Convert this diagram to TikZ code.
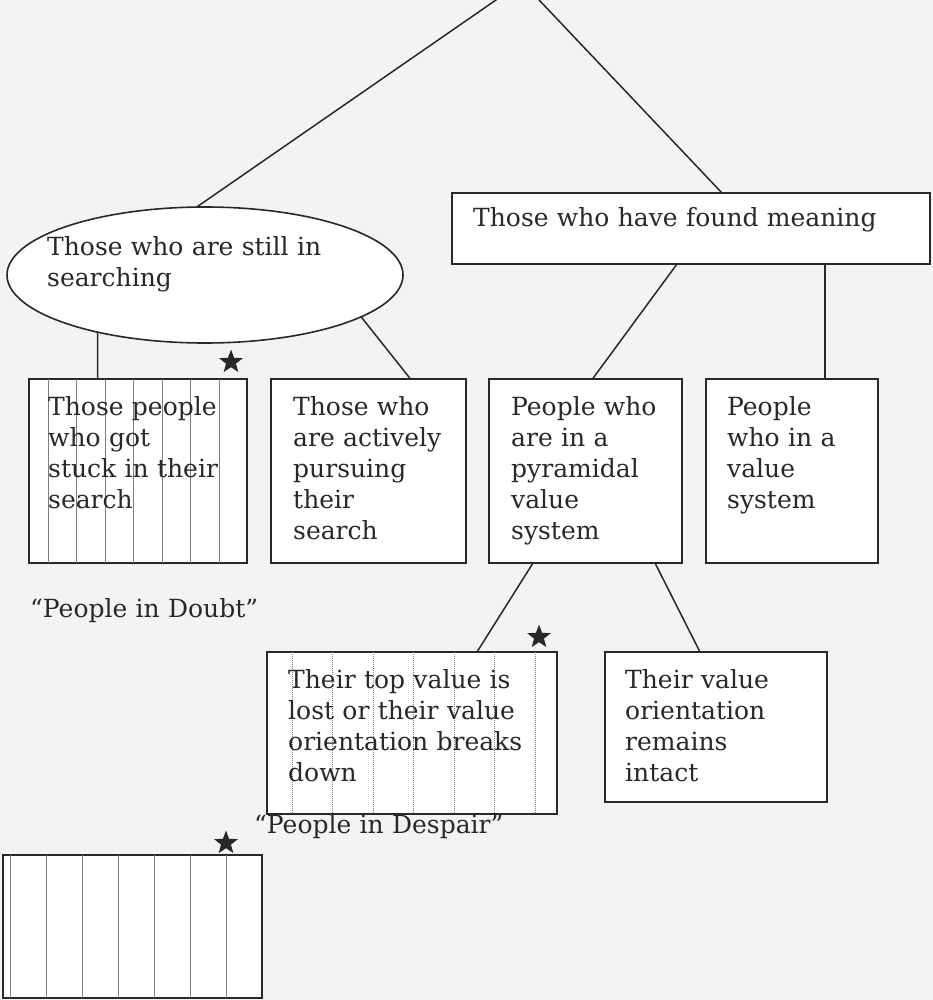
\documentclass[tikz,border=0pt]{standalone}
\usepackage{fontspec}
\setmainfont{DejaVu Serif}
\usepackage{tikz}
\usetikzlibrary{shapes.geometric}
\tikzstyle{chart} = [x = 1pt, y = -1pt]
\definecolor{inkColor}{RGB}{40,40,42}
\definecolor{hatchColor}{RGB}{125,125,130}
\definecolor{paperColor}{RGB}{243,243,242}
\tikzstyle{boxStyle} = [draw=inkColor, fill=white, line width=1.6pt, inner sep=0pt, outer sep=0pt]
\tikzstyle{ovalStyle} = [boxStyle, ellipse]
\tikzstyle{boxText} = [text=inkColor, inner sep=0pt, anchor=base west, align=left, text width=500pt, font=\fontsize{25}{31}\selectfont]
\tikzstyle{link} = [draw=inkColor, line width=1.5pt]
\tikzstyle{hatchLine} = [hatchColor, line width=1pt]
\tikzstyle{starMark} = [star, star points=5, star point ratio=2.4, fill=inkColor, inner sep=0pt, minimum size=25pt]
\newcommand{\hatchLines}[4]{
  \foreach \k in {0,...,6} {
    \pgfmathsetmacro{\off}{#2 + \k * #3}
    \draw [#4] ([xshift=\off]#1.north west) -- ([xshift=\off]#1.south west);
  }
}

\begin{document}
\begin{tikzpicture}[chart]
      \fill [paperColor] (0,0) rectangle (933,1000);
      \useasboundingbox (0,0) rectangle (933,1000);

      \coordinate (apex) at (522,-18);
      \node [ovalStyle, minimum width=396pt, minimum height=136pt] (searching) at (205,275) {};
      \node [boxStyle, minimum width=478pt, minimum height=71pt] (found) at (691,228.5) {};

      \node [boxStyle, minimum width=218pt, minimum height=184pt] (stuck) at (138,471) {};
      \node [boxStyle, minimum width=195pt, minimum height=184pt] (pursuing) at (368.5,471) {};
      \node [boxStyle, minimum width=193pt, minimum height=184pt] (pyramid) at (585.5,471) {};
      \node [boxStyle, minimum width=172pt, minimum height=184pt] (valueSystem) at (792,471) {};

      \node [boxStyle, minimum width=290pt, minimum height=162pt] (lost) at (412,733) {};
      \node [boxStyle, minimum width=222pt, minimum height=150pt] (intact) at (716,727) {};
      \node [boxStyle, minimum width=259pt, minimum height=143pt] (despair) at (132.5,926.5) {};

      \hatchLines{stuck}{19}{28.5}{hatchLine}
      \hatchLines{lost}{25}{40.5}{hatchLine, densely dotted}
      \hatchLines{despair}{7}{36}{hatchLine}

      \node [boxText] (searchingText) at (47,255) {Those who are still in\\searching};
      \node [boxText] (foundText) at ([shift={(21,-1.5)}]found.west) {Those who have found meaning};
      \node [boxText] (stuckText) at ([shift={(19,36)}]stuck.north west) {Those people\\who got\\stuck in their\\search};
      \node [boxText] (pursuingText) at ([shift={(22,36)}]pursuing.north west) {Those who\\are actively\\pursuing\\their\\search};
      \node [boxText] (pyramidText) at ([shift={(22,36)}]pyramid.north west) {People who\\are in a\\pyramidal\\value\\system};
      \node [boxText] (valueSystemText) at ([shift={(21,36)}]valueSystem.north west) {People\\who in a\\value\\system};
      \node [boxText] (lostText) at ([shift={(21,36)}]lost.north west) {Their top value is\\lost or their value\\orientation breaks\\down};
      \node [boxText] (intactText) at ([shift={(20,36)}]intact.north west) {Their value\\orientation\\remains\\intact};
      \node [boxText] (doubtLabel) at (30,617) {“People in Doubt”};
      \node [boxText] (despairLabel) at (254,833) {“People in Despair”};

      \node [starMark] (stuckStar) at ([shift={(-16,-17)}]stuck.north east) {};
      \node [starMark] (lostStar) at ([shift={(-18,-15)}]lost.north east) {};
      \node [starMark] (despairStar) at ([shift={(-36,-12)}]despair.north east) {};

      \draw [link] (apex) -- (searching.97);
      \draw [link] (apex) -- ([xshift=31]found.north);
      \draw [link] (searching.208) -- ([xshift=-40.5]stuck.north);
      \draw [link] (searching.-15) -- ([xshift=42]pursuing.north);
      \draw [link] ([xshift=-14]found.south) -- ([xshift=7]pyramid.north);
      \draw [link] ([xshift=134]found.south) -- ([xshift=33]valueSystem.north);
      \draw [link] ([xshift=-52.5]pyramid.south) -- ([xshift=65]lost.north);
      \draw [link] ([xshift=69.5]pyramid.south) -- ([xshift=-16]intact.north);
    \end{tikzpicture}
\end{document}
